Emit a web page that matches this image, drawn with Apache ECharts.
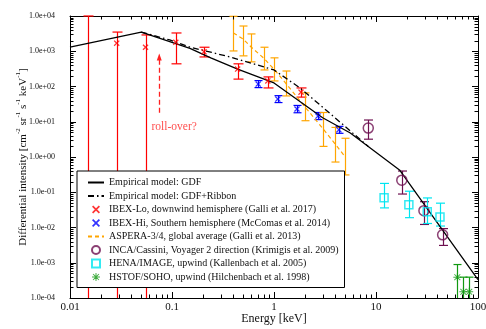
<!DOCTYPE html>
<html>
<head>
<meta charset="utf-8">
<script src="https://cdn.jsdelivr.net/npm/echarts@6/dist/echarts.min.js"></script>
<style>
  html, body { margin: 0; padding: 0; background: #fff; }
  #chart { width: 486px; height: 329px; }
</style>
</head>
<body>
<div id="chart"></div>
<script>
// 坐标轴
const xMin = 0.01, xMax = 100, yMin = 1e-4, yMax = 1e4;
const xTickLabels = { '-2': '0.01', '-1': '0.1', '0': '1', '1': '10', '2': '100' };
const yTickLabels = { '-4': '1.0e-04', '-3': '1.0e-03', '-2': '1.0e-02', '-1': '1.0e-01', '0': '1.0e+00',
                      '1': '1.0e+01', '2': '1.0e+02', '3': '1.0e+03', '4': '1.0e+04' };
const xDecades = [0.01, 0.1, 1, 10];
const yDecades = [1e-4, 1e-3, 1e-2, 1e-1, 1, 10, 100, 1000];
const minorSteps = [2, 3, 4, 5, 6, 7, 8, 9];

// 模型曲线
const gdfE = [0.01, 0.05, 0.15, 0.24, 0.44, 1, 3, 5.6, 17, 100];
const gdfV = [1300, 3500, 1200, 650, 310, 126, 13, 4.8, 0.43, 3.3e-4];
const ribE = [0.05, 0.095, 0.15, 0.37, 1.0, 1.8, 3.8, 8.4];
const ribV = [3500, 2090, 1310, 690, 295, 91, 14.4, 2.0];

// IBEX-Lo
const loE = [0.0149, 0.0287, 0.055, 0.109, 0.206, 0.44, 0.87, 1.84];
const loV = [null, 1700, 1300, 1800, 960, 313, 144, 69];
const loLow = [1e-4, 1e-4, 1e-4, 440, 690, 162, 91, 50];
const loHigh = [1e4, 3500, 2900, 3300, 1300, 440, 187, 91];

// IBEX-Hi
const hiE = [0.70, 1.09, 1.68, 2.70, 4.33];
const hiV = [117, 44, 23, 14.5, 5.9];
const hiLow = [93, 35, 18, 11.5, 4.7];
const hiHigh = [147, 55, 29, 18.3, 7.4];

// ASPERA-3/4
const asE = [0.40, 0.50, 0.60, 0.80, 1.0, 1.30, 2.0, 3.0, 4.0, 5.0];
const asV = [3300, 2200, 1300, 620, 310, 125, 27, 6.5, 2.3, 1.0];
const asLow = [1020, 740, 500, 295, 144, 54, 10.7, 2.0, 0.72, 0.31];
const asHigh = [9800, 5200, 3100, 1300, 650, 275, 66, 18.3, 6.9, 3.4];

// INCA/Cassini
const incE = [8.4, 17.9, 29.5, 45];
const incV = [6.6, 0.22, 0.030, 0.0062];
const incLow = [3.2, 0.089, 0.0122, 0.0031];
const incHigh = [11.2, 0.40, 0.054, 0.0093];

// HENA/IMAGE
const henE = [12.0, 21, 31.8, 42.4];
const henV = [0.070, 0.044, 0.028, 0.020];
const henLow = [0.036, 0.019, 0.013, 0.011];
const henHigh = [0.178, 0.107, 0.069, 0.049];

// HSTOF/SOHO
const hsE = [62.7, 71.8, 82];
const hsV = [3.9e-4, 1.5e-4, 1.5e-4];
const hsLow = [1e-4, 1e-4, 1e-4];
const hsHigh = [8.9e-4, 3.9e-4, 3.9e-4];

const names = [
  'Empirical model: GDF',
  'Empirical model: GDF+Ribbon',
  'IBEX-Lo, downwind hemisphere (Galli et al. 2017)',
  'IBEX-Hi, Southern hemisphere (McComas et al. 2014)',
  'ASPERA-3/4, global average (Galli et al. 2013)',
  'INCA/Cassini, Voyager 2 direction (Krimigis et al. 2009)',
  'HENA/IMAGE, upwind (Kallenbach et al. 2005)',
  'HSTOF/SOHO, upwind (Hilchenbach et al. 1998)'
];
// 线型图例不显示符号
const lineOnly = [0, 1, 4];

const FONT = 'Liberation Serif';
const crossPath = 'path://M0.15,0 L0.5,0.35 L0.85,0 L1,0.15 L0.65,0.5 L1,0.85 L0.85,1 L0.5,0.65 L0.15,1 L0,0.85 L0.35,0.5 L0,0.15 Z';
const starPath = 'path://M0.44,0 L0.56,0 L0.56,0.44 L1,0.44 L1,0.56 L0.56,0.56 L0.56,1 L0.44,1 L0.44,0.56 L0,0.56 L0,0.44 L0.44,0.44 Z ' +
  'M0.17,0.09 L0.5,0.42 L0.83,0.09 L0.91,0.17 L0.58,0.5 L0.91,0.83 L0.83,0.91 L0.5,0.58 L0.17,0.91 L0.09,0.83 L0.42,0.5 L0.09,0.17 Z';
const squarePath = 'path://M0,0 L1,0 L1,1 L0,1 Z';

const zip = (a, b) => a.map((v, i) => [v, b[i]]).filter(p => p[1] !== null);
const zip3 = (a, b, c) => a.map((v, i) => [v, b[i], c[i]]);

// 误差棒
function errorSeries(E, low, high, color, capW) {
  return {
    type: 'custom',
    silent: true,
    data: zip3(E, low, high),
    encode: { x: 0, y: [1, 2] },
    renderItem: function (params, api) {
      const x = api.value(0), lo = api.value(1), hi = api.value(2);
      const pLo = api.coord([x, lo]);
      const pHi = api.coord([x, hi]);
      const px = Math.round(pLo[0]) + 0.5;
      const st = { stroke: color, lineWidth: 1.2 };
      const children = [
        { type: 'line', shape: { x1: px, y1: pLo[1], x2: px, y2: pHi[1] }, style: st },
        { type: 'line', shape: { x1: px - capW, y1: pHi[1], x2: px + capW, y2: pHi[1] }, style: st }
      ];
      if (lo > yMin) {
        children.push({ type: 'line', shape: { x1: px - capW, y1: pLo[1], x2: px + capW, y2: pLo[1] }, style: st });
      }
      return { type: 'group', children: children };
    },
    z: 3
  };
}

// 次刻度
const xMinor = [], yMinor = [];
xDecades.forEach(d => minorSteps.forEach(k => xMinor.push([k * d, 1])));
yDecades.forEach(d => minorSteps.forEach(k => yMinor.push([1, k * d])));

function minorTickSeries(data, isX) {
  return {
    type: 'custom',
    silent: true,
    data: data,
    encode: { x: 0, y: 1 },
    z: 10,
    renderItem: function (params, api) {
      const cs = params.coordSys;
      const p = api.coord([api.value(0), api.value(1)]);
      const st = { stroke: '#000', lineWidth: 1 };
      const L = 3.5;
      if (isX) {
        const x = Math.round(p[0]) + 0.5;
        return { type: 'group', children: [
          { type: 'line', shape: { x1: x, y1: cs.y + cs.height, x2: x, y2: cs.y + cs.height - L }, style: st },
          { type: 'line', shape: { x1: x, y1: cs.y, x2: x, y2: cs.y + L }, style: st }
        ] };
      }
      const y = Math.round(p[1]) + 0.5;
      return { type: 'group', children: [
        { type: 'line', shape: { x1: cs.x, y1: y, x2: cs.x + L, y2: y }, style: st },
        { type: 'line', shape: { x1: cs.x + cs.width, y1: y, x2: cs.x + cs.width - L, y2: y }, style: st }
      ] };
    }
  };
}

const chart = echarts.init(document.getElementById('chart'));

const axisCommon = {
  type: 'log',
  logBase: 10,
  interval: 1,
  nameMoveOverlap: false,
  axisLine: { show: true, lineStyle: { color: '#000', width: 1 } },
  axisTick: { show: true, inside: true, length: 6, lineStyle: { color: '#000' } },
  splitLine: { show: false },
  minorTick: { show: false }
};

const option = {
  animation: false,
  backgroundColor: '#fff',
  grid: { left: 70, right: 8, top: 16, bottom: 31, containLabel: false, outerBoundsMode: 'none' },
  legend: {
    data: names.map((n, i) => lineOnly.includes(i) ? { name: n, itemStyle: { opacity: 0 } } : { name: n }),
    orient: 'vertical',
    left: 77,
    top: 171,
    padding: [6, 6, 5, 10],
    itemWidth: 16,
    itemHeight: 8,
    itemGap: 2.5,
    selectedMode: false,
    backgroundColor: '#fff',
    borderColor: '#000',
    borderWidth: 1,
    borderRadius: 0,
    textStyle: { fontFamily: FONT, fontSize: 10, color: '#111', lineHeight: 11 }
  },
  xAxis: [
    Object.assign({}, axisCommon, {
      min: xMin, max: xMax, position: 'bottom',
      name: 'Energy [keV]', nameLocation: 'middle', nameGap: 15,
      nameTextStyle: { fontFamily: FONT, fontSize: 12, color: '#111' },
      axisLabel: { fontFamily: FONT, fontSize: 11, color: '#111', margin: 4,
        formatter: v => xTickLabels[Math.round(Math.log10(v))] }
    }),
    Object.assign({}, axisCommon, {
      min: xMin, max: xMax, position: 'top', axisLabel: { show: false }
    })
  ],
  yAxis: [
    Object.assign({}, axisCommon, {
      min: yMin, max: yMax, position: 'left',
      name: '{n|Differential intensity [cm}{s|-2}{n| sr}{s|-1}{n| s}{s|-1}{n| keV}{s|-1}{n|]}',
      nameLocation: 'middle', nameGap: 41, nameRotate: 90,
      nameTextStyle: { fontFamily: FONT, color: '#111',
        rich: {
          n: { fontFamily: FONT, fontSize: 11, color: '#111', lineHeight: 14, verticalAlign: 'bottom' },
          s: { fontFamily: FONT, fontSize: 7, color: '#111', lineHeight: 14, verticalAlign: 'top' }
        } },
      axisLabel: { fontFamily: FONT, fontSize: 8, color: '#111', margin: 15,
        formatter: v => yTickLabels[Math.round(Math.log10(v))] }
    }),
    Object.assign({}, axisCommon, {
      min: yMin, max: yMax, position: 'right', axisLabel: { show: false }
    })
  ],
  series: [
    minorTickSeries(xMinor, true),
    minorTickSeries(yMinor, false),
    errorSeries(loE, loLow, loHigh, '#ff0000', 5),
    errorSeries(hiE, hiLow, hiHigh, '#0000ff', 4),
    errorSeries(asE, asLow, asHigh, '#ffa500', 4),
    errorSeries(incE, incLow, incHigh, '#6e1050', 4.5),
    errorSeries(henE, henLow, henHigh, '#00e5f0', 4.5),
    errorSeries(hsE, hsLow, hsHigh, '#119911', 4),
    {
      name: names[0], type: 'line', data: zip(gdfE, gdfV), symbol: 'none',
      lineStyle: { color: '#000', width: 1.3 }, itemStyle: { color: '#000' }, z: 4
    },
    {
      name: names[1], type: 'line', data: zip(ribE, ribV), symbol: 'none',
      lineStyle: { color: '#000', width: 1.3, type: [6, 3, 1.5, 3] }, itemStyle: { color: '#000' }, z: 4
    },
    {
      name: names[2], type: 'scatter', data: zip(loE, loV), symbol: crossPath, symbolSize: 6,
      symbolKeepAspect: true, itemStyle: { color: '#ff0000' }, z: 5
    },
    {
      name: names[3], type: 'scatter', data: zip(hiE, hiV), symbol: crossPath, symbolSize: 6,
      symbolKeepAspect: true, itemStyle: { color: '#0000ff' }, z: 5
    },
    {
      name: names[4], type: 'line', data: zip(asE, asV), symbol: 'none',
      lineStyle: { color: '#ffa500', width: 1.2, type: [4, 3] }, itemStyle: { color: '#ffa500' }, z: 3
    },
    {
      name: names[5], type: 'scatter', data: zip(incE, incV), symbol: 'circle', symbolSize: 10,
      itemStyle: { color: 'transparent', borderColor: '#6e1050', borderWidth: 1.5 }, z: 5
    },
    {
      name: names[6], type: 'scatter', data: zip(henE, henV), symbol: squarePath, symbolSize: 8,
      symbolKeepAspect: true,
      itemStyle: { color: 'transparent', borderColor: '#00e5f0', borderWidth: 1.5 }, z: 5
    },
    {
      name: names[7], type: 'scatter', data: zip(hsE, hsV), symbol: starPath, symbolSize: 8,
      symbolKeepAspect: true, itemStyle: { color: '#119911' }, z: 5
    },
    {
      // roll-over 标注
      type: 'scatter', silent: true, data: [[0.105, 7.2]], symbolSize: 0,
      label: { show: true, position: 'inside', formatter: 'roll-over?',
        fontFamily: FONT, fontSize: 11.5, color: '#ff2020' },
      markLine: {
        silent: true, symbol: ['none', 'triangle'], symbolSize: [5, 7],
        label: { show: false },
        lineStyle: { color: '#ff2020', width: 1.3, type: [5, 3] },
        data: [[{ coord: [0.075, 18] }, { coord: [0.075, 690] }]]
      },
      z: 6
    }
  ]
};

chart.setOption(option);
</script>
</body>
</html>
